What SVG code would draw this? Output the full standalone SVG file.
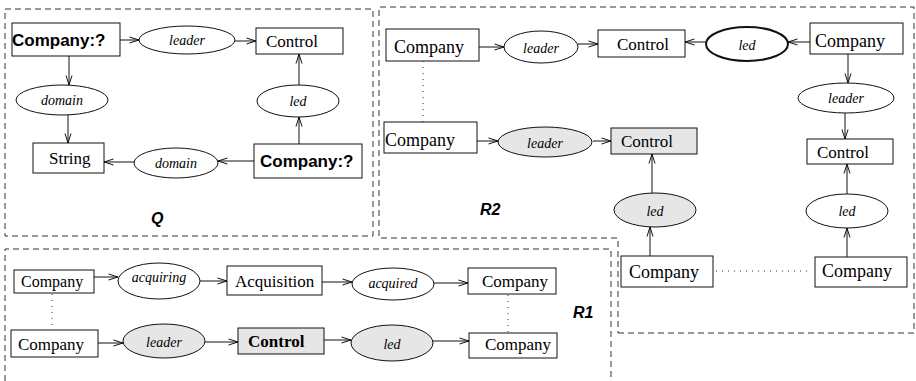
<svg xmlns="http://www.w3.org/2000/svg" width="916" height="381" viewBox="0 0 916 381">
  <style>
    .bg { fill: #ffffff; }
    .region { fill: none; stroke: #333; stroke-width: 1; stroke-dasharray: 6 4; }
    .box { fill: #ffffff; stroke: #111; stroke-width: 1; }
    .ell { fill: #ffffff; stroke: #111; stroke-width: 1; }
    .grey { fill: #e6e6e6; }
    .thick { stroke-width: 2; }
    .edge { fill: none; stroke: #111; stroke-width: 1; marker-end: url(#ah); }
    .dots { fill: none; stroke: #333; stroke-width: 1; stroke-dasharray: 1 5; }
    .cls { font-family: "Liberation Serif", "Times New Roman", serif; font-size: 18px; fill: #000; }
    .cls17 { font-family: "Liberation Serif", "Times New Roman", serif; font-size: 17px; fill: #000; }
    .cls16 { font-family: "Liberation Serif", "Times New Roman", serif; font-size: 16px; fill: #000; }
    .clsb { font-family: "Liberation Serif", "Times New Roman", serif; font-size: 17px; font-weight: bold; fill: #000; }
    .var { font-family: "Liberation Sans", Arial, sans-serif; font-size: 17px; font-weight: bold; fill: #000; }
    .prop { font-family: "Liberation Serif", "Times New Roman", serif; font-size: 14px; font-style: italic; fill: #000; text-anchor: middle; }
    .title { font-family: "Liberation Sans", Arial, sans-serif; font-size: 16px; font-weight: bold; font-style: italic; fill: #000; }
  </style>
  <defs>
    <marker id="ah" viewBox="0 0 10 8" refX="10" refY="4" markerWidth="10" markerHeight="8" orient="auto" markerUnits="userSpaceOnUse">
      <path d="M0.5,1 L10,4 L0.5,7" fill="none" stroke="#111" stroke-width="1"/>
    </marker>
  </defs>
  <rect class="bg" x="0" y="0" width="916" height="381"/>

  <!-- pattern frames -->
  <g id="frames">
    <rect class="region" x="5" y="9" width="368" height="227"/>
    <path class="region" d="M618,333 H914 V7 H379 V238 H618 Z"/>
    <path class="region" d="M5,381 V249 H611 V381"/>
    <text class="title" x="151" y="224">Q</text>
    <text class="title" x="480" y="215">R2</text>
    <text class="title" x="573" y="318">R1</text>
  </g>

  <!-- connectors -->
  <g id="connectors">
    <!-- Q -->
    <line class="edge" x1="120" y1="40" x2="139" y2="40"/>
    <line class="edge" x1="235" y1="41" x2="256" y2="41"/>
    <line class="edge" x1="69" y1="56" x2="69" y2="85"/>
    <line class="edge" x1="68" y1="115" x2="68" y2="143"/>
    <line class="edge" x1="254" y1="161" x2="218" y2="161"/>
    <line class="edge" x1="135" y1="162" x2="104" y2="162"/>
    <line class="edge" x1="299" y1="144" x2="299" y2="117"/>
    <line class="edge" x1="299" y1="85" x2="299" y2="54"/>
    <!-- R2 -->
    <line class="edge" x1="479" y1="47" x2="504" y2="47"/>
    <line class="edge" x1="578" y1="44" x2="598" y2="44"/>
    <line class="edge" x1="810" y1="42" x2="788" y2="42"/>
    <line class="edge" x1="706" y1="42" x2="685" y2="42"/>
    <line class="edge" x1="848" y1="54" x2="848" y2="83"/>
    <line class="edge" x1="845" y1="113" x2="845" y2="139"/>
    <line class="edge" x1="847" y1="194" x2="847" y2="164"/>
    <line class="edge" x1="847" y1="257" x2="847" y2="228"/>
    <line class="edge" x1="650" y1="256" x2="650" y2="227"/>
    <line class="edge" x1="652" y1="193" x2="652" y2="154"/>
    <line class="edge" x1="477" y1="141" x2="498" y2="141"/>
    <line class="edge" x1="593" y1="141" x2="611" y2="141"/>
    <line class="dots" x1="423" y1="61" x2="423" y2="122"/>
    <line class="dots" x1="716" y1="271" x2="812" y2="271"/>
    <!-- R1 -->
    <line class="edge" x1="94" y1="277" x2="118" y2="277"/>
    <line class="edge" x1="200" y1="281" x2="227" y2="281"/>
    <line class="edge" x1="322" y1="282" x2="352" y2="282"/>
    <line class="edge" x1="434" y1="283" x2="468" y2="283"/>
    <line class="edge" x1="98" y1="343" x2="123" y2="343"/>
    <line class="edge" x1="205" y1="342" x2="238" y2="342"/>
    <line class="edge" x1="324" y1="340" x2="351" y2="340"/>
    <line class="edge" x1="433" y1="341" x2="469" y2="341"/>
    <line class="dots" x1="52" y1="294" x2="52" y2="330"/>
    <line class="dots" x1="508" y1="295" x2="508" y2="333"/>
  </g>

  <!-- Q nodes -->
  <g id="q-company-1"><rect class="box" x="12" y="23" width="108" height="33"/><text class="var" x="12" y="46">Company:?</text></g>
  <g id="q-leader"><ellipse class="ell" cx="187" cy="40" rx="48" ry="14"/><text class="prop" x="187" y="45">leader</text></g>
  <g id="q-control"><rect class="box" x="256" y="28" width="87" height="26"/><text class="cls17" x="266" y="47">Control</text></g>
  <g id="q-domain-1"><ellipse class="ell" cx="62" cy="100" rx="46" ry="15"/><text class="prop" x="62" y="105">domain</text></g>
  <g id="q-string"><rect class="box" x="33" y="143" width="71" height="30"/><text class="cls17" x="49" y="164">String</text></g>
  <g id="q-domain-2"><ellipse class="ell" cx="176" cy="163" rx="42" ry="15"/><text class="prop" x="176" y="168">domain</text></g>
  <g id="q-company-2"><rect class="box" x="254" y="144" width="108" height="34"/><text class="var" x="260" y="167">Company:?</text></g>
  <g id="q-led"><ellipse class="ell" cx="298" cy="101" rx="41" ry="16"/><text class="prop" x="298" y="106">led</text></g>

  <!-- R2 nodes -->
  <g id="r2-company-1"><rect class="box" x="386" y="29" width="93" height="32"/><text class="cls" x="394" y="53">Company</text></g>
  <g id="r2-leader-1"><ellipse class="ell" cx="541" cy="47" rx="37" ry="16"/><text class="prop" x="541" y="53">leader</text></g>
  <g id="r2-control-1"><rect class="box" x="598" y="30" width="87" height="27"/><text class="cls17" x="617" y="50">Control</text></g>
  <g id="r2-led-1"><ellipse class="ell thick" cx="747" cy="44" rx="41" ry="17"/><text class="prop" x="747" y="50">led</text></g>
  <g id="r2-company-2"><rect class="box" x="810" y="23" width="93" height="31"/><text class="cls" x="815" y="47">Company</text></g>
  <g id="r2-leader-2"><ellipse class="ell" cx="846" cy="98" rx="48" ry="15"/><text class="prop" x="846" y="103">leader</text></g>
  <g id="r2-control-2"><rect class="box" x="807" y="139" width="86" height="25"/><text class="cls17" x="817" y="158">Control</text></g>
  <g id="r2-led-2"><ellipse class="ell" cx="847" cy="211" rx="41" ry="17"/><text class="prop" x="847" y="216">led</text></g>
  <g id="r2-company-3"><rect class="box" x="815" y="257" width="92" height="30"/><text class="cls" x="822" y="277">Company</text></g>
  <g id="r2-company-4"><rect class="box" x="621" y="256" width="92" height="31"/><text class="cls" x="629" y="278">Company</text></g>
  <g id="r2-led-3"><ellipse class="ell grey" cx="655" cy="210" rx="41" ry="17"/><text class="prop" x="655" y="216">led</text></g>
  <g id="r2-control-3"><rect class="box grey" x="611" y="128" width="86" height="26"/><text class="cls17" x="621" y="147">Control</text></g>
  <g id="r2-leader-3"><ellipse class="ell grey" cx="545" cy="142" rx="47" ry="15"/><text class="prop" x="545" y="148">leader</text></g>
  <g id="r2-company-5"><rect class="box" x="384" y="122" width="93" height="31"/><text class="cls" x="385" y="146">Company</text></g>

  <!-- R1 nodes -->
  <g id="r1-company-1"><rect class="box" x="14" y="270" width="80" height="23"/><text class="cls16" x="21" y="287">Company</text></g>
  <g id="r1-acquiring"><ellipse class="ell" cx="159" cy="281" rx="41" ry="18"/><text class="prop" x="159" y="282">acquiring</text></g>
  <g id="r1-acquisition"><rect class="box" x="227" y="266" width="95" height="29"/><text class="cls17" x="235" y="287">Acquisition</text></g>
  <g id="r1-acquired"><ellipse class="ell" cx="393" cy="284" rx="41" ry="16"/><text class="prop" x="393" y="288">acquired</text></g>
  <g id="r1-company-2"><rect class="box" x="468" y="268" width="88" height="26"/><text class="cls17" x="482" y="287">Company</text></g>
  <g id="r1-company-3"><rect class="box" x="11" y="330" width="87" height="27"/><text class="cls17" x="18" y="350">Company</text></g>
  <g id="r1-leader"><ellipse class="ell grey" cx="164" cy="341" rx="41" ry="17"/><text class="prop" x="164" y="347">leader</text></g>
  <g id="r1-control"><rect class="box grey" x="238" y="328" width="86" height="26"/><text class="clsb" x="248" y="347">Control</text></g>
  <g id="r1-led"><ellipse class="ell grey" cx="392" cy="343" rx="41" ry="18"/><text class="prop" x="392" y="349">led</text></g>
  <g id="r1-company-4"><rect class="box" x="469" y="333" width="88" height="25"/><text class="cls17" x="485" y="350">Company</text></g>
</svg>
